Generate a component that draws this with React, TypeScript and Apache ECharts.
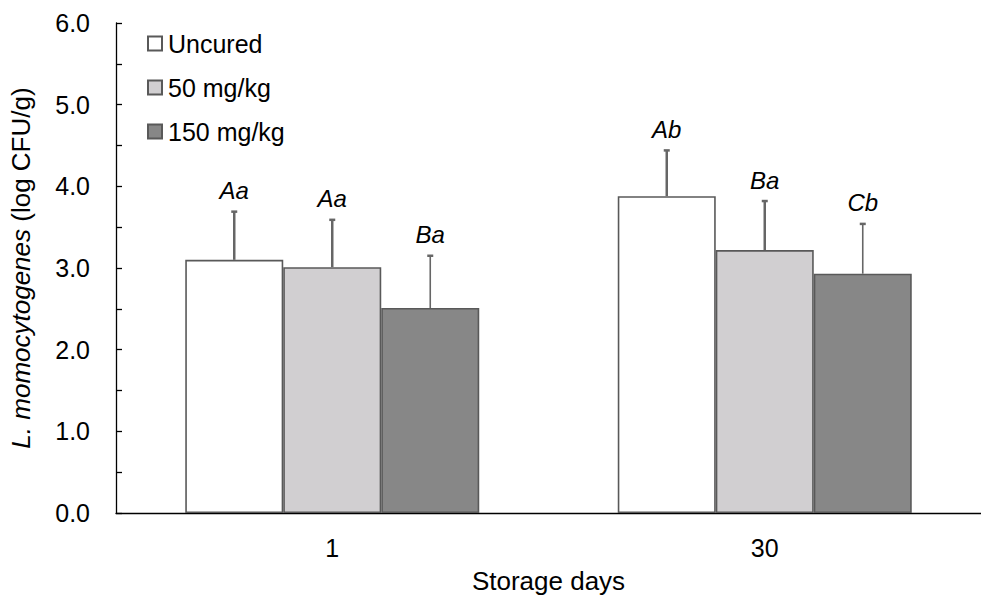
import React, { useEffect, useRef } from "react";
import * as echarts from "echarts";

const categories = ["1", "30"];
const groups = ["Uncured", "50 mg/kg", "150 mg/kg"];
const uncured = [3.1, 3.88];
const mg50 = [3.01, 3.22];
const mg150 = [2.51, 2.93];
const uncuredSd = [0.59, 0.56];
const mg50Sd = [0.58, 0.6];
const mg150Sd = [0.64, 0.61];
const uncuredLetters = ["Aa", "Ab"];
const mg50Letters = ["Aa", "Ba"];
const mg150Letters = ["Ba", "Cb"];

const fills = ["#ffffff", "#d1cfd1", "#878787"];
const FONT = "Liberation Sans, Arial, sans-serif";

export default function App() {
  const ref = useRef<HTMLDivElement>(null);
  useEffect(() => {
    if (!ref.current) return;
    const chart = echarts.init(ref.current, undefined, { renderer: "svg" });
    const means = [uncured, mg50, mg150];
    const sds = [uncuredSd, mg50Sd, mg150Sd];
    const letters = [uncuredLetters, mg50Letters, mg150Letters];
    const errData: number[][] = [];
    const errLabels: string[] = [];
    for (let g = 0; g < 3; g++) {
      for (let c = 0; c < categories.length; c++) {
        errData.push([c, means[g][c], sds[g][c], g]);
        errLabels.push(letters[g][c]);
      }
    }
    const barWidth = 98;
    const lineWidths = [2.5, 2.5, 1.6];
    chart.setOption({
      animation: false,
      textStyle: { fontFamily: FONT },
      grid: { left: 112, top: 23, width: 880, height: 495 },
      legend: {
        data: groups,
        orient: "vertical",
        left: 142,
        top: 26,
        itemWidth: 14,
        itemHeight: 14,
        itemGap: 19,
        icon: "rect",
        textStyle: { fontSize: 25, color: "#000", fontFamily: FONT, padding: [0, 0, 0, 1] },
      },
      xAxis: {
        type: "category",
        data: categories,
        axisLine: { lineStyle: { color: "#000", width: 1.3 } },
        axisTick: { inside: true, length: 6, lineStyle: { color: "#000", width: 1.3 } },
        axisLabel: { fontSize: 25, color: "#000", margin: 22, fontFamily: FONT },
        name: "Storage days",
        nameLocation: "middle",
        nameGap: 55,
        nameTextStyle: { fontSize: 26, color: "#000", fontFamily: FONT },
      },
      yAxis: {
        type: "value",
        min: 0,
        max: 6,
        interval: 1,
        axisLine: { show: true, lineStyle: { color: "#000", width: 1.3 } },
        axisTick: { show: true, inside: true, length: 6, lineStyle: { color: "#000", width: 1.3 } },
        minorTick: { show: true, splitNumber: 2, length: 6, lineStyle: { color: "#000", width: 1.3 } },
        splitLine: { show: false },
        axisLabel: {
          fontSize: 25,
          color: "#000",
          margin: 26,
          fontFamily: FONT,
          formatter: (v: number) => v.toFixed(1),
        },
        name: "{i|L. momocytogenes} (log CFU/g)",
        nameLocation: "middle",
        nameGap: 82,
        nameTextStyle: {
          fontSize: 26,
          color: "#000",
          fontFamily: FONT,
          rich: { i: { fontStyle: "italic", fontSize: 26, fontFamily: FONT, color: "#000" } },
        },
      },
      series: [
        ...groups.map((name, g) => ({
          type: "bar",
          name,
          data: means[g],
          barWidth,
          barGap: "0%",
          itemStyle: { color: fills[g], borderColor: "#595959", borderWidth: 1.6 },
        })),
        {
          type: "custom",
          data: errData,
          z: 10,
          renderItem: (params: any, api: any) => {
            const c = api.value(0);
            const mean = api.value(1);
            const sd = api.value(2);
            const g = api.value(3);
            const base = api.coord([c, mean]);
            const top = api.coord([c, mean + sd]);
            const x = base[0] + (g - 1) * barWidth;
            const lw = lineWidths[g];
            return {
              type: "group",
              children: [
                {
                  type: "line",
                  shape: { x1: x, y1: base[1], x2: x, y2: top[1] },
                  style: { stroke: "#666", lineWidth: lw },
                },
                {
                  type: "line",
                  shape: { x1: x - 3, y1: top[1], x2: x + 3, y2: top[1] },
                  style: { stroke: "#666", lineWidth: 2.5 },
                },
                {
                  type: "text",
                  x: x,
                  y: top[1] - 9,
                  style: {
                    text: errLabels[params.dataIndex],
                    fontSize: 24,
                    fontStyle: "italic",
                    fontFamily: FONT,
                    fill: "#000",
                    align: "center",
                    verticalAlign: "bottom",
                  },
                },
              ],
            };
          },
        },
      ],
    });
    return () => chart.dispose();
  }, []);
  return (
    <div
      ref={ref}
      style={{ position: "fixed", left: 0, top: 0, width: 981, height: 599, background: "#fff" }}
    />
  );
}
